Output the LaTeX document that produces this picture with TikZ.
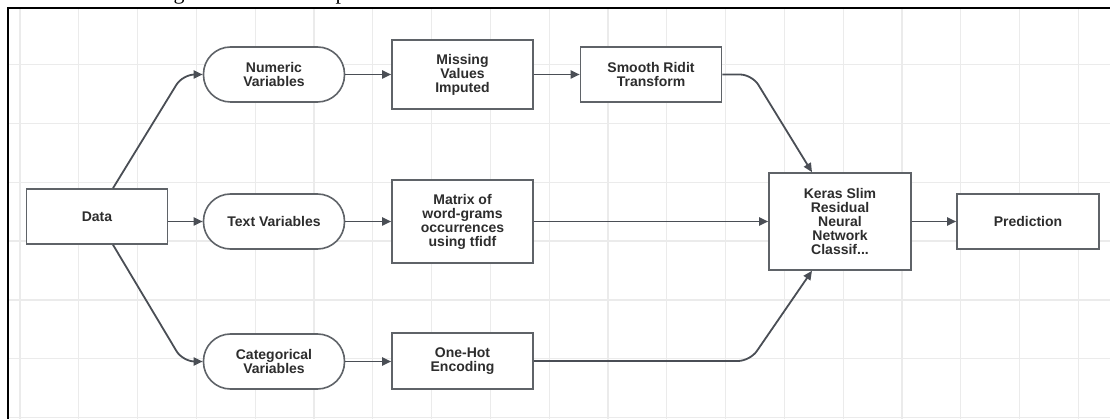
\documentclass[tikz,border=0pt]{standalone}
\usepackage{fontspec}
\setmainfont{Liberation Sans}
\newfontfamily\capserif{Liberation Serif}
\usetikzlibrary{arrows.meta}
\definecolor{gridc}{HTML}{EBEBEB}
\definecolor{boxc}{HTML}{5F6368}
\definecolor{arrc}{HTML}{4A4E55}
\definecolor{txtc}{HTML}{2D2D2D}
\tikzset{
  stage/.style={draw=boxc, line width=1.6pt, fill=white, minimum width=141pt, minimum height=55pt,
    inner sep=0pt, align=center, text=txtc, font=\bfseries\fontsize{14}{14}\selectfont},
  pill/.style={stage, rounded corners=27pt},
  conn/.style={draw=arrc, line width=1.8pt, -{Triangle[length=9pt,width=8pt]}},
}
\begin{document}
\begin{tikzpicture}[x=1pt,y=-1pt]
\useasboundingbox (0,0) rectangle (1110,419);
% grid
\foreach \k in {0,...,18} \draw[gridc, line width=1.3pt] (20+58.8*\k,9) -- (20+58.8*\k,419);
\foreach \k in {1,...,7} \draw[gridc, line width=1.3pt] (8,5.9+58.8*\k) -- (1110,5.9+58.8*\k);
% clipped caption fragments above the frame
\begin{scope}
\clip (0,0) rectangle (1110,6.8);
\node[anchor=base, inner sep=0pt, font=\capserif\fontsize{22}{22}\selectfont] (capg) at (179,0) {g};
\node[anchor=base, inner sep=0pt, font=\capserif\fontsize{22}{22}\selectfont] (capp) at (341,0) {p};
\end{scope}
% frame
\draw[black, line width=2.2pt] (7.8,419) -- (7.8,8) -- (1110,8);
% nodes
\node[stage] (data) at (97,216.5) {Data};
\node[pill] (num) at (274,74.5) {Numeric\\Variables};
\node[pill] (txt) at (274,221.5) {Text Variables};
\node[pill] (cat) at (274,361.5) {Categorical\\Variables};
\node[stage, minimum height=69pt] (miss) at (462.5,74.5) {Missing\\Values\\Imputed};
\node[stage] (ridit) at (651,74.5) {Smooth Ridit\\Transform};
\node[stage, minimum height=83pt] (mat) at (462.5,221.5) {Matrix of\\word-grams\\occurrences\\using tfidf};
\node[stage, minimum height=56pt] (hot) at (462.5,361) {One-Hot\\Encoding};
\node[stage, minimum width=142pt, minimum height=97pt] (keras) at (840,221.5) {Keras Slim\\Residual\\Neural\\Network\\Classif...};
\node[stage, minimum width=142pt] (pred) at (1028,221.5) {Prediction};
% connectors
\draw[conn, rounded corners=12pt] ([xshift=16pt]data.north) -- ([xshift=-20pt]num.west) -- (num.west);
\draw[conn] (data.east |- txt.west) -- (txt.west);
\draw[conn, rounded corners=12pt] ([xshift=16pt]data.south) -- ([xshift=-20pt]cat.west) -- (cat.west);
\draw[conn] (num.east) -- (miss.west |- num.east);
\draw[conn] (miss.east |- ridit.west) -- (ridit.west);
\draw[conn] (txt.east) -- (mat.west |- txt.east);
\draw[conn] (cat.east) -- (hot.west |- cat.east);
\draw[conn, rounded corners=12pt] (ridit.east) -- ([xshift=-88pt]keras.north |- ridit.east) -- ([xshift=-28pt]keras.north);
\draw[conn] (mat.east) -- (keras.west |- mat.east);
\draw[conn, rounded corners=12pt] (hot.east) -- ([xshift=-90pt]keras.south |- hot.east) -- ([xshift=-28pt]keras.south);
\draw[conn] (keras.east) -- (pred.west);
\end{tikzpicture}
\end{document}
